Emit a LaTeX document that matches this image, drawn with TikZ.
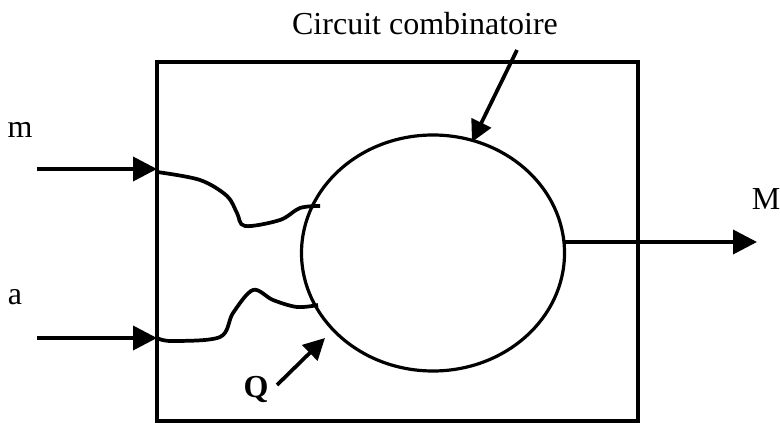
\documentclass[tikz,border=0pt]{standalone}
\usepackage{fontspec}
\setmainfont{Liberation Serif}
\usetikzlibrary{shapes.geometric,arrows.meta}
\begin{document}
\begin{tikzpicture}[x=0.75pt,y=-0.75pt,
  lw/.style={line width=2.8pt},
  arr/.style={lw,-{Triangle[length=18pt,width=18pt]}},
  arrs/.style={lw,-{Triangle[length=16pt,width=16pt]}},
  lbl/.style={font=\fontsize{24}{28}\selectfont,inner sep=0pt},
  wave/.style={line width=2.8pt}]
\useasboundingbox (0,0) rectangle (780,423);
\node[draw,lw,rectangle,inner sep=0pt,outer sep=0pt,minimum width=360.75pt,minimum height=269.25pt] (box) at (397.5,241.5) {};
\node[draw,line width=2.4pt,ellipse,inner sep=0pt,outer sep=0pt,minimum width=197.25pt,minimum height=177pt] (circ) at (433,253) {};
% labels
\node[lbl] (title) at (425,24) {Circuit combinatoire};
\node[lbl] (m) at (20,130) {m};
\node[lbl] (a) at (15,297) {a};
\node[lbl] (M) at (766,199) {M};
\node[lbl,font=\fontsize{24}{28}\selectfont\bfseries] (Q) at (256,389) {Q};
% coordinates
\coordinate (min) at (37,169);
\coordinate (mend) at (157,169);
\coordinate (ain) at (37,338);
\coordinate (aend) at (157,338);
\coordinate (tstart) at (517,50);
\coordinate (ttip) at (472,142);
\coordinate (qstart) at (277,385);
\coordinate (qtip) at (325,338);
\coordinate (Mtip) at (757,242);
\coordinate (Mstart) at (565,242);
% arrows
\draw[arr] (min) -- (mend);
\draw[arr] (ain) -- (aend);
\draw[arr] (Mstart) -- (Mtip);
\draw[arrs] (tstart) -- (ttip);
\draw[arrs] (qstart) -- (qtip);
% wavy wires
\draw[wave] plot[smooth,tension=0.55] coordinates {(157,172) (200,180) (227,196) (237,213) (245,226) (280,220) (300,208) (320,206)};
\draw[wave] plot[smooth,tension=0.55] coordinates {(157,338) (172,341) (220,337) (233,313) (253,290) (273,300) (297,307) (318,305)};
\end{tikzpicture}
\end{document}
